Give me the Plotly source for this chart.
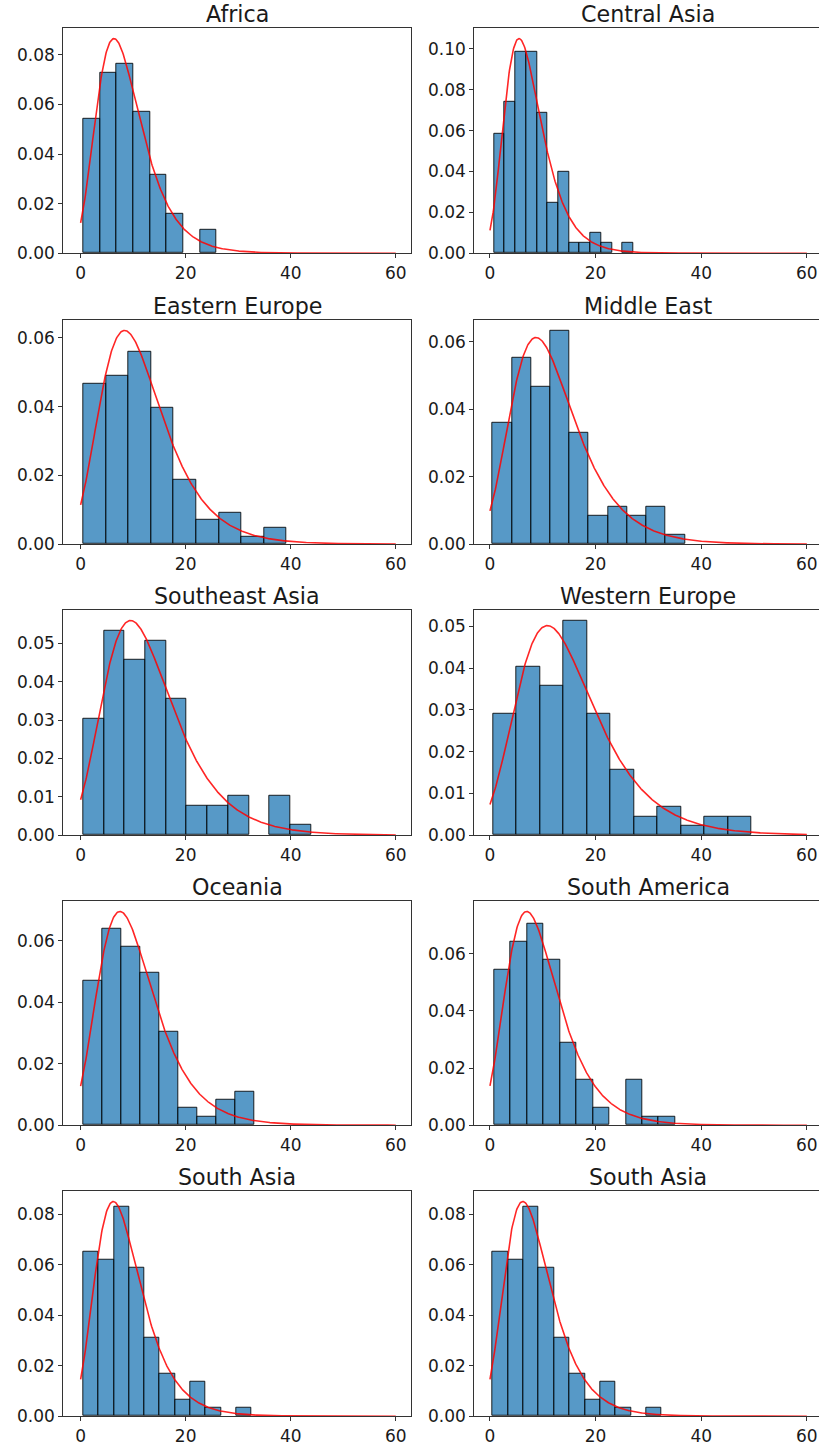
import numpy as np
import plotly.graph_objects as go

# ---------------- data ----------------
titles = ["Africa", "Central Asia", "Eastern Europe", "Middle East",
          "Southeast Asia", "Western Europe", "Oceania", "South America",
          "South Asia", "South Asia"]

# histogram bins: first edge, bin width, density heights (None = empty bin)
africa_start, africa_width = 0.51, 3.17
africa_heights = [0.0541, 0.0728, 0.0763, 0.0570, 0.0317, 0.0159, None, 0.0096]

central_asia_start, central_asia_width = 0.76, 2.03
central_asia_heights = [0.0587, 0.0740, 0.0984, 0.0984, 0.0689, 0.0249, 0.0397,
                        0.0049, 0.0049, 0.0101, 0.0049, None, 0.0049]

eastern_europe_start, eastern_europe_width = 0.51, 4.30
eastern_europe_heights = [0.0465, 0.0489, 0.0559, 0.0397, 0.0187, 0.0070,
                          0.0091, 0.0022, 0.0047]

middle_east_start, middle_east_width = 0.50, 3.64
middle_east_heights = [0.0359, 0.0552, 0.0468, 0.0634, 0.0330, 0.0083,
                       0.0110, 0.0083, 0.0110, 0.0028]

southeast_asia_start, southeast_asia_width = 0.51, 3.94
southeast_asia_heights = [0.0304, 0.0532, 0.0457, 0.0508, 0.0356, 0.0078,
                          0.0078, 0.0102, None, 0.0102, 0.0027]

western_europe_start, western_europe_width = 0.57, 4.45
western_europe_heights = [0.0290, 0.0403, 0.0357, 0.0514, 0.0290, 0.0156,
                          0.0044, 0.0067, 0.0022, 0.0044, 0.0044]

oceania_start, oceania_width = 0.51, 3.61
oceania_heights = [0.0470, 0.0639, 0.0581, 0.0497, 0.0303, 0.0056,
                   0.0026, 0.0082, 0.0109]

south_america_start, south_america_width = 0.76, 3.12
south_america_heights = [0.0545, 0.0642, 0.0706, 0.0577, 0.0290, 0.0159,
                         0.0062, None, 0.0159, 0.0031, 0.0031]

south_asia_start, south_asia_width = 0.51, 2.91
south_asia_heights = [0.0652, 0.0619, 0.0828, 0.0586, 0.0310, 0.0169,
                      0.0067, 0.0136, 0.0035, None, 0.0035]

# fitted Gumbel (right-skewed) curve parameters: location, scale
gumbel_loc = [6.34, 5.50, 8.36, 8.72, 9.50, 10.87, 7.48, 6.95, 6.21, 6.21]
gumbel_scale = [4.25, 3.50, 5.92, 6.00, 6.57, 7.33, 5.29, 4.92, 4.33, 4.33]

y_dticks = [0.02, 0.02, 0.02, 0.02, 0.01, 0.01, 0.02, 0.02, 0.02, 0.02]
x_ticks = [0, 20, 40, 60]

hist_data = [
    (africa_start, africa_width, africa_heights),
    (central_asia_start, central_asia_width, central_asia_heights),
    (eastern_europe_start, eastern_europe_width, eastern_europe_heights),
    (middle_east_start, middle_east_width, middle_east_heights),
    (southeast_asia_start, southeast_asia_width, southeast_asia_heights),
    (western_europe_start, western_europe_width, western_europe_heights),
    (oceania_start, oceania_width, oceania_heights),
    (south_america_start, south_america_width, south_america_heights),
    (south_asia_start, south_asia_width, south_asia_heights),
    (south_asia_start, south_asia_width, south_asia_heights),
]

# ---------------- layout geometry ----------------
W, H = 819, 1453
# left column fully visible; right column is cut by the figure edge
col_px = [(63.3, 411.0), (474.3, 819.0)]
col_xrange = [(-3.3, 62.9), (-2.97, 62.3)]
row_px = [(28, 255), (322, 548), (614, 841), (907, 1133), (1199, 1426)]

FONT = "DejaVu Sans, Verdana, sans-serif"
TXT = "#1a1a1a"
AX = "#333333"

fig = go.Figure()
layout = dict(
    width=W, height=H, margin=dict(l=0, r=0, t=0, b=0),
    plot_bgcolor="white", paper_bgcolor="white", showlegend=False,
    font=dict(family=FONT, size=17, color=TXT), bargap=0,
)
annotations = []

xs = np.linspace(0, 60, 600)
for i, (title, (start, width, heights)) in enumerate(zip(titles, hist_data)):
    r, c = divmod(i, 2)
    n = i + 1
    xa = "x" if n == 1 else f"x{n}"
    ya = "y" if n == 1 else f"y{n}"
    centers = [start + width * (k + 0.5) for k in range(len(heights))]
    fig.add_trace(go.Bar(
        x=centers, y=heights, width=[width] * len(heights),
        marker=dict(color="rgba(31,119,180,0.75)",
                    line=dict(color="rgba(0,0,0,0.85)", width=1)),
        xaxis=xa, yaxis=ya, hoverinfo="skip"))
    loc, sc = gumbel_loc[i], gumbel_scale[i]
    z = (xs - loc) / sc
    pdf = np.exp(-(z + np.exp(-z))) / sc
    fig.add_trace(go.Scatter(
        x=xs, y=pdf, mode="lines",
        line=dict(color="rgba(255,0,0,0.85)", width=1.6),
        xaxis=xa, yaxis=ya, hoverinfo="skip"))

    ymax = 1.05 * max(max(h for h in heights if h is not None), pdf.max())
    x0, x1 = col_px[c]
    yt, yb = row_px[r]
    common = dict(showline=True, linecolor=AX, linewidth=1,
                  ticks="outside", ticklen=4, tickwidth=1, tickcolor=AX,
                  showgrid=False, zeroline=False,
                  tickfont=dict(family=FONT, size=17, color=TXT))
    layout["xaxis" if n == 1 else f"xaxis{n}"] = dict(
        domain=[x0 / W, x1 / W], range=list(col_xrange[c]), anchor=ya,
        tickvals=x_ticks, mirror=True, **common)
    layout["yaxis" if n == 1 else f"yaxis{n}"] = dict(
        domain=[1 - yb / H, 1 - yt / H], range=[0, ymax], anchor=xa,
        dtick=y_dticks[i], tick0=0, tickformat=".2f",
        mirror=(c == 0), **common)
    annotations.append(dict(
        text=title, xref="paper", yref="paper",
        x=(63.3 + 411.0) / 2 / W if c == 0 else (474.3 + 822.0) / 2 / W,
        y=1 - (yt + 1) / H,
        xanchor="center", yanchor="bottom", showarrow=False,
        font=dict(family=FONT, size=22.2, color=TXT)))

layout["annotations"] = annotations
fig.update_layout(**layout)
fig.write_html("out.html")
